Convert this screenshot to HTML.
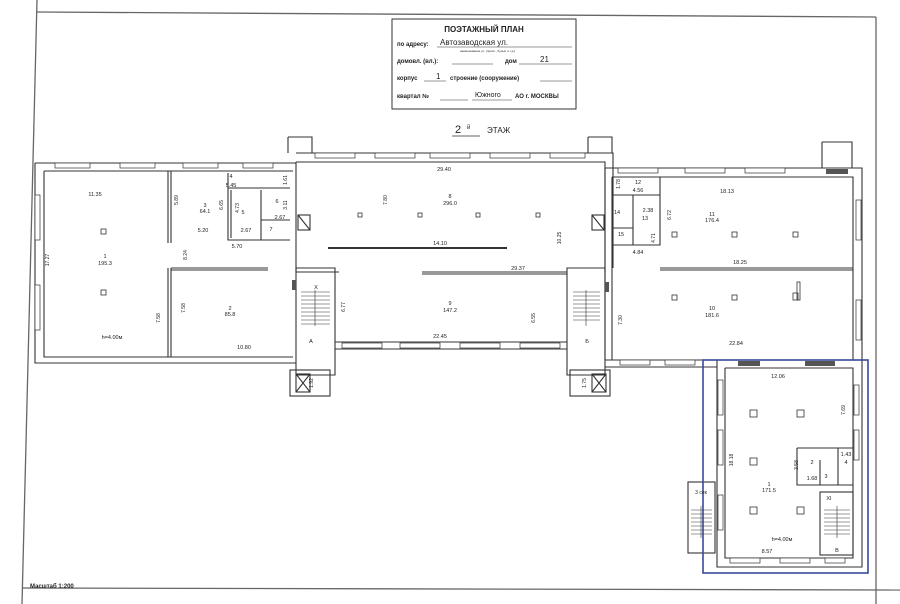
<!DOCTYPE html>
<html><head><meta charset="utf-8"><style>
html,body{margin:0;padding:0;background:#fff;}
svg{display:block;}
text{font-family:"Liberation Sans",sans-serif;fill:#222;}
</style></head><body>
<svg width="900" height="604" viewBox="0 0 900 604" xmlns="http://www.w3.org/2000/svg">
<rect width="900" height="604" fill="#fff"/>
<!-- page border -->
<g stroke="#666" stroke-width="1.3" fill="none">
<line x1="37" y1="0" x2="22" y2="604"/>
<line x1="37" y1="12" x2="876" y2="17"/>
<line x1="876" y1="17" x2="876" y2="604"/>
<line x1="23" y1="588" x2="900" y2="590"/>
</g>
<text x="30" y="588" font-size="6" font-weight="bold">Масштаб 1:200</text>

<!-- header -->
<rect x="392" y="19" width="184" height="90" fill="none" stroke="#333" stroke-width="1"/>
<text x="484" y="32" font-size="8" font-weight="bold" text-anchor="middle">ПОЭТАЖНЫЙ ПЛАН</text>
<text x="397" y="46" font-size="6" font-weight="bold">по адресу:</text>
<text x="440" y="45" font-size="8">Автозаводская ул.</text>
<line x1="437" y1="47" x2="572" y2="47" stroke="#333" stroke-width="0.6"/>
<text x="460" y="52" font-size="3">наименование ул. (просп., бульв. и т.д.)</text>
<text x="397" y="63" font-size="6" font-weight="bold">домовл. (вл.):</text>
<line x1="452" y1="64" x2="493" y2="64" stroke="#333" stroke-width="0.6"/>
<text x="505" y="63" font-size="6" font-weight="bold">дом</text>
<text x="540" y="62" font-size="8">21</text>
<line x1="519" y1="64" x2="572" y2="64" stroke="#333" stroke-width="0.6"/>
<text x="397" y="80" font-size="6" font-weight="bold">корпус</text>
<text x="436" y="79" font-size="8">1</text>
<line x1="424" y1="81" x2="446" y2="81" stroke="#333" stroke-width="0.6"/>
<text x="450" y="80" font-size="6" font-weight="bold">строение (сооружение)</text>
<line x1="540" y1="81" x2="572" y2="81" stroke="#333" stroke-width="0.6"/>
<text x="397" y="98" font-size="6" font-weight="bold">квартал №</text>
<line x1="440" y1="100" x2="468" y2="100" stroke="#333" stroke-width="0.6"/>
<text x="475" y="97" font-size="7">Южного</text>
<line x1="472" y1="100" x2="512" y2="100" stroke="#333" stroke-width="0.6"/>
<text x="515" y="98" font-size="6" font-weight="bold">АО г. МОСКВЫ</text>
<text x="455" y="133" font-size="11">2</text>
<line x1="452" y1="136" x2="480" y2="136" stroke="#333" stroke-width="0.8"/>
<text x="467" y="129" font-size="6">й</text>
<text x="487" y="133" font-size="8">ЭТАЖ</text>

<g stroke="#333" stroke-width="1.1" fill="none">
<!-- left block -->
<path d="M35 163 H296 M35 163 V363 H296"/>
<path d="M44 171 H293 M44 171 V357 H293"/>
<path d="M168 171 V243 M171 171 V243 M168 268 V357 M171 268 V357"/>
<path d="M171 268 H268 M171 270 H268"/>
<path d="M228 173 V240 H290 M228 188 H290 M231 190 V238 M261 190 V240 M261 220 H290"/>
<!-- middle block -->
<path d="M296 153 H613 V163 M296 162 H605 V272"/>
<path d="M288 137 H312 V153 M288 137 V153 M588 137 H612 V153 M588 137 V153"/>
<path d="M296 162 V272 M296 272 H339 M422 272 H567 M422 274 H567"/>
<path d="M328 248 H507" stroke-width="2"/>
<path d="M296 268 H335 V375 H296 Z M567 268 H605 V375 H567 Z"/>
<path d="M335 342 H567 M335 349 H567 M613 163 V268"/>
<rect x="290" y="370" width="40" height="26"/><rect x="296" y="374" width="14" height="18"/>
<path d="M296 374 L310 392 M310 374 L296 392"/>
<rect x="570" y="370" width="40" height="26"/><rect x="592" y="374" width="14" height="18"/>
<path d="M592 374 L606 392 M606 374 L592 392"/>
<rect x="298" y="215" width="12" height="15"/><path d="M298 215 L310 230"/>
<rect x="592" y="215" width="12" height="15"/><path d="M592 215 L604 230"/>
<!-- right block -->
<path d="M605 168 H862 V360 M612 177 H853 V360 M612 177 V360 M605 168 V360"/>
<path d="M822 142 H852 V168 M822 142 V168"/>
<path d="M660 268 H853 M660 270 H853"/>
<path d="M612 195 H660 M660 177 V245 H612 M633 195 V245 M612 228 H633"/>
<path d="M605 360 H725 M605 367 H717"/>
<!-- annex -->
<path d="M717 360 V567 H862 V360 M725 368 H853 V558 H725 V368"/>
<path d="M797 448 H853 M797 448 V485 H853 M820 460 V485 M838 448 V485"/>
<rect x="820" y="492" width="33" height="63"/>
<rect x="688" y="482" width="27" height="71"/>
</g>
<rect x="703" y="360" width="165" height="213" fill="none" stroke="#3a4a9a" stroke-width="1.6"/>

<!-- stairs -->
<g stroke="#333" stroke-width="0.6">
<path d="M301 292 H330 M301 296 H330 M301 300 H330 M301 304 H330 M301 308 H330 M301 312 H330 M301 316 H330 M301 320 H330 M301 324 H330 M315 290 V326"/>
<path d="M573 292 H600 M573 296 H600 M573 300 H600 M573 304 H600 M573 308 H600 M573 312 H600 M573 316 H600 M573 320 H600 M586 290 V326"/>
<path d="M824 510 H850 M824 514 H850 M824 518 H850 M824 522 H850 M824 526 H850 M824 530 H850 M824 534 H850 M837 506 V538"/>
<path d="M691 510 H712 M691 514 H712 M691 518 H712 M691 522 H712 M691 526 H712 M691 530 H712 M691 534 H712 M701 506 V538"/>
</g>
<!-- windows -->
<g fill="#fff" stroke="#333" stroke-width="0.7">
<rect x="55" y="163" width="35" height="5"/><rect x="120" y="163" width="35" height="5"/><rect x="183" y="163" width="35" height="5"/><rect x="243" y="163" width="30" height="5"/>
<rect x="35" y="195" width="5" height="45"/><rect x="35" y="285" width="5" height="45"/>
<rect x="315" y="153" width="40" height="5"/><rect x="375" y="153" width="40" height="5"/><rect x="430" y="153" width="40" height="5"/><rect x="490" y="153" width="40" height="5"/><rect x="550" y="153" width="35" height="5"/>
<rect x="342" y="343" width="40" height="5"/><rect x="400" y="343" width="40" height="5"/><rect x="460" y="343" width="40" height="5"/><rect x="520" y="343" width="40" height="5"/>
<rect x="618" y="168" width="40" height="5"/><rect x="685" y="168" width="40" height="5"/><rect x="745" y="168" width="40" height="5"/>
<rect x="856" y="200" width="5" height="40"/><rect x="856" y="300" width="5" height="40"/>
<rect x="620" y="360" width="30" height="5"/><rect x="665" y="360" width="30" height="5"/>
<rect x="718" y="380" width="5" height="35"/><rect x="718" y="430" width="5" height="35"/><rect x="718" y="495" width="5" height="35"/>
<rect x="854" y="385" width="5" height="30"/><rect x="854" y="430" width="5" height="30"/>
<rect x="730" y="558" width="30" height="5"/><rect x="780" y="558" width="30" height="5"/><rect x="825" y="558" width="20" height="5"/>
</g>
<g fill="#555"><rect x="738" y="361" width="22" height="5"/><rect x="805" y="361" width="30" height="5"/><rect x="826" y="169" width="22" height="5"/><rect x="292" y="280" width="4" height="10"/><rect x="605" y="282" width="4" height="10"/></g>
<!-- columns -->
<g fill="none" stroke="#333" stroke-width="0.8">
<rect x="101" y="229" width="5" height="5"/><rect x="101" y="290" width="5" height="5"/>
<rect x="358" y="213" width="4" height="4"/><rect x="418" y="213" width="4" height="4"/><rect x="476" y="213" width="4" height="4"/><rect x="536" y="213" width="4" height="4"/>
<rect x="672" y="232" width="5" height="5"/><rect x="732" y="232" width="5" height="5"/><rect x="793" y="232" width="5" height="5"/>
<rect x="672" y="295" width="5" height="5"/><rect x="732" y="295" width="5" height="5"/><rect x="793" y="293" width="5" height="7"/><rect x="797" y="282" width="3" height="18"/>
<rect x="750" y="410" width="7" height="7"/><rect x="797" y="410" width="7" height="7"/><rect x="750" y="458" width="7" height="7"/><rect x="750" y="507" width="7" height="7"/><rect x="797" y="507" width="7" height="7"/>
</g>
<!-- labels -->
<g font-size="5.5" text-anchor="middle">
<text x="95" y="196">11.35</text><text x="105" y="258">1</text><text x="105" y="265">195.3</text>
<text x="112" y="339">h=4.00м</text><text x="203" y="232">5.20</text><text x="237" y="248">5.70</text>
<text x="205" y="207">3</text><text x="205" y="213">64.1</text><text x="231" y="178">4</text><text x="231" y="187">5.45</text>
<text x="243" y="214">5</text><text x="277" y="203">6</text><text x="246" y="232">2.67</text><text x="280" y="219">2.67</text><text x="271" y="231">7</text>
<text x="230" y="310">2</text><text x="230" y="316">85.8</text><text x="244" y="349">10.80</text>
<text x="444" y="171">29.40</text><text x="450" y="198">8</text><text x="450" y="205">296.0</text><text x="440" y="245">14.10</text>
<text x="518" y="270">29.37</text><text x="450" y="305">9</text><text x="450" y="312">147.2</text><text x="440" y="338">22.45</text>
<text x="316" y="289">X</text><text x="311" y="343">A</text><text x="587" y="343">Б</text>
<text x="727" y="193">18.13</text><text x="712" y="216">11</text><text x="712" y="222">176.4</text>
<text x="740" y="264">18.25</text><text x="712" y="310">10</text><text x="712" y="317">181.6</text><text x="736" y="345">22.84</text>
<text x="638" y="184">12</text><text x="638" y="192">4.56</text><text x="617" y="214">14</text><text x="648" y="212">2.38</text><text x="645" y="220">13</text><text x="621" y="236">15</text><text x="638" y="254">4.84</text>
<text x="778" y="378">12.06</text><text x="769" y="486">1</text><text x="769" y="492">171.5</text><text x="782" y="541">h=4.00м</text><text x="767" y="553">8.57</text>
<text x="812" y="464">2</text><text x="812" y="480">1.68</text><text x="826" y="478">3</text><text x="846" y="464">4</text><text x="846" y="456">1.43</text>
<text x="829" y="500">XI</text><text x="837" y="552">B</text><text x="701" y="494" font-size="5">3 сек</text>
</g>
<g font-size="5" text-anchor="middle">
<text transform="translate(49,260) rotate(-90)">17.27</text>
<text transform="translate(178,200) rotate(-90)">5.89</text>
<text transform="translate(187,255) rotate(-90)">8.24</text>
<text transform="translate(160,318) rotate(-90)">7.58</text>
<text transform="translate(185,308) rotate(-90)">7.58</text>
<text transform="translate(223,205) rotate(-90)">6.65</text>
<text transform="translate(239,208) rotate(-90)">4.73</text>
<text transform="translate(287,205) rotate(-90)">3.11</text>
<text transform="translate(287,180) rotate(-90)">1.61</text>
<text transform="translate(387,200) rotate(-90)">7.80</text>
<text transform="translate(561,238) rotate(-90)">10.25</text>
<text transform="translate(345,307) rotate(-90)">6.77</text>
<text transform="translate(535,318) rotate(-90)">6.55</text>
<text transform="translate(622,320) rotate(-90)">7.30</text>
<text transform="translate(671,215) rotate(-90)">6.72</text>
<text transform="translate(620,184) rotate(-90)">1.78</text>
<text transform="translate(655,238) rotate(-90)">4.71</text>
<text transform="translate(845,410) rotate(-90)">7.69</text>
<text transform="translate(733,460) rotate(-90)">18.18</text>
<text transform="translate(798,465) rotate(-90)">3.58</text>
<text transform="translate(313,383) rotate(-90)">1.92</text>
<text transform="translate(586,383) rotate(-90)">1.75</text>
</g>
</svg>
</body></html>
